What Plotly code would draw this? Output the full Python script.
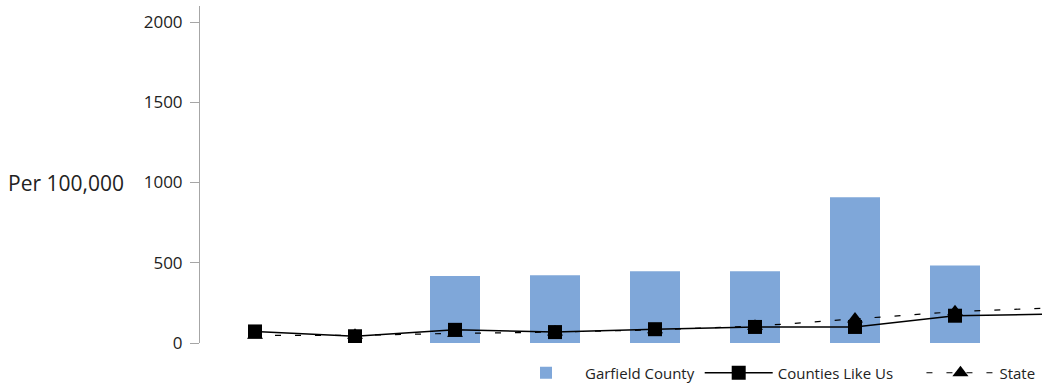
import plotly.graph_objects as go

categories = ["1", "2", "3", "4", "5", "6", "7", "8", "9"]
garfield = [None, None, 417, 422, 447, 447, 908, 483, None]
counties = [72, 42, 82, 68, 86, 100, 100, 170, 180]
state = [48, 48, 60, 68, 82, 105, 150, 195, 220]

NB = "\u00a0"

fig = go.Figure()
fig.add_trace(go.Bar(x=categories, y=garfield, name="Garfield County",
                     marker=dict(color="#7FA7D9", line=dict(width=0)),
                     width=0.5, legendrank=1))
fig.add_trace(go.Scatter(x=categories, y=state, name="State", mode="lines+markers",
                         line=dict(color="black", width=1.2, dash="6px,14px"),
                         marker=dict(symbol="triangle-up", size=14, color="black"),
                         legendrank=3))
fig.add_trace(go.Scatter(x=categories, y=counties, name="Counties Like Us" + NB * 6,
                         mode="lines+markers",
                         line=dict(color="black", width=1.5),
                         marker=dict(symbol="square", size=14, color="black"),
                         legendrank=2))

fig.update_layout(
    width=1042, height=386,
    margin=dict(l=200, r=0, t=6, b=43, autoexpand=False),
    plot_bgcolor="white", paper_bgcolor="white",
    font=dict(family="Open Sans", color="#222"),
    showlegend=True,
    legend=dict(orientation="h", xref="container", x=507 / 1042, xanchor="left",
                yref="container", y=1 - 373 / 386, yanchor="middle",
                font=dict(size=15, color="#222"), itemwidth=68, traceorder="normal"),
    xaxis=dict(type="category", range=[-0.55, 7.87], showticklabels=False,
               showgrid=False, zeroline=False, showline=False, ticks="", automargin=False),
    yaxis=dict(range=[0, 2100], tickvals=[0, 500, 1000, 1500, 2000],
               showgrid=False, zeroline=False, showline=True, linecolor="#A6A6A6",
               linewidth=1, ticks="outside", ticklen=9, tickcolor="#A6A6A6",
               ticklabelstandoff=4,
               tickfont=dict(size=17, color="#222"), automargin=False),
    annotations=[dict(text="Per 100,000", x=0, xref="paper", xanchor="left",
                      xshift=-194, y=1000, yref="y", showarrow=False,
                      font=dict(size=21, color="#222"))],
)

fig.write_html("out.html", config={"displayModeBar": False},
               post_script="document.body.style.margin='0';document.body.style.overflow='hidden';")
